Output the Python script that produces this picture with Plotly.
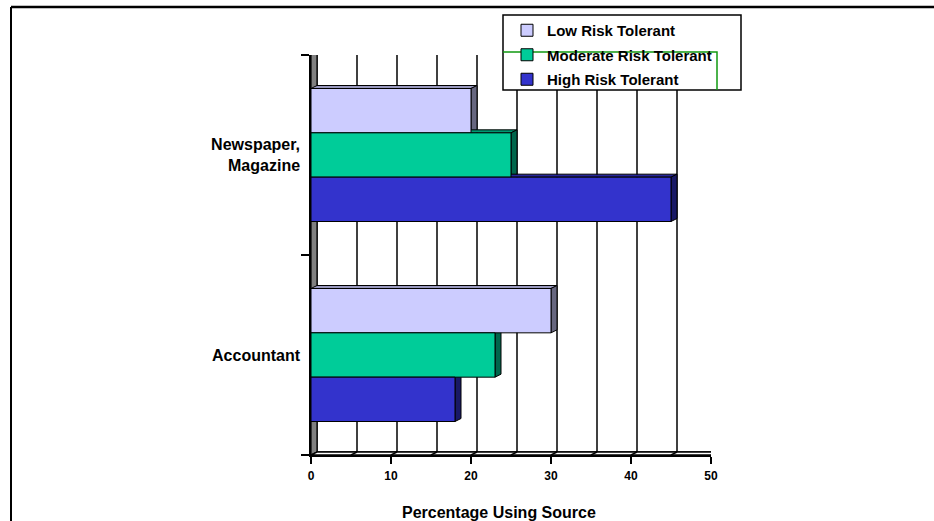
import plotly.graph_objects as go

# Source of investment information, by risk tolerance (percent using each source)
categories = ["Accountant", "Newspaper,<br>Magazine"]
series_names = ["Low Risk Tolerant", "Moderate Risk Tolerant", "High Risk Tolerant"]
low_values = [30, 20]
moderate_values = [23, 25]
high_values = [18, 45]
x_tick_values = [0, 10, 20, 30, 40, 50]
x_title = "Percentage Using Source"

series_colors = ["#CCCCFF", "#00CC99", "#3333CC"]

W, H = 934, 521
FONT = "Arial, 'Liberation Sans', sans-serif"

# plot frame (front plane) in pixels
px_left, px_right = 311, 711
py_top, py_bottom = 55, 455
x_max = 50
y_lo, y_hi = -0.5, len(categories) - 0.5

# pseudo-3D depth, in pixels and in axis units
depth_px_x, depth_px_y = 6, 3
dx = depth_px_x * x_max / (px_right - px_left)
dy = depth_px_y * (y_hi - y_lo) / (py_bottom - py_top)

group_width = 0.665
bar_width = group_width / 3

# legend box, pixels
lg_x0, lg_x1, lg_y0, lg_y1 = 503, 741, 15, 90


def shade(hex_color, f):
    h = hex_color.lstrip("#")
    r, g, b = (int(h[i:i + 2], 16) for i in (0, 2, 4))
    return "#%02X%02X%02X" % (int(r * f), int(g * f), int(b * f))


def pxx(x):
    return x / W


def pxy(y):
    return 1 - y / H


fig = go.Figure()

# within each group: Low on top, Moderate in the middle, High at the bottom
values_by_series = [low_values, moderate_values, high_values]
offsets = {}
for s in range(3):
    slot_from_bottom = 2 - s
    offsets[s] = -group_width / 2 + slot_from_bottom * bar_width
    fig.add_trace(go.Bar(
        y=list(range(len(categories))),
        x=values_by_series[s],
        orientation="h",
        name=series_names[s],
        legendgroup=series_names[s],
        width=bar_width,
        offset=offsets[s],
        marker=dict(color=series_colors[s], line=dict(color="black", width=1)),
        hoverinfo="x+name",
    ))

shapes = []
line_k = dict(color="black", width=1.5)

# back wall with vertical gridlines every 5 units
shapes.append(dict(type="rect", xref="x", yref="y", x0=dx, x1=x_max + dx,
                   y0=y_lo + dy, y1=y_hi + dy, line=line_k, fillcolor="white",
                   layer="below"))
for v in range(5, x_max, 5):
    shapes.append(dict(type="line", xref="x", yref="y", x0=v + dx, x1=v + dx,
                       y0=y_lo + dy, y1=y_hi + dy, line=line_k, layer="below"))

# left side wall
shapes.append(dict(type="path", xref="x", yref="y",
                   path=f"M0,{y_lo} L{dx},{y_lo + dy} L{dx},{y_hi + dy} L0,{y_hi} Z",
                   fillcolor="#808080", line=dict(color="black", width=1.2),
                   layer="below"))

# floor
shapes.append(dict(type="path", xref="x", yref="y",
                   path=f"M0,{y_lo} L{x_max},{y_lo} L{x_max + dx},{y_lo + dy} L{dx},{y_lo + dy} Z",
                   fillcolor="white", line=line_k, layer="below"))
for v in range(5, x_max + 1, 5):
    shapes.append(dict(type="line", xref="x", yref="y", x0=v, x1=v + dx,
                       y0=y_lo, y1=y_lo + dy, line=line_k, layer="below"))

# side and top faces of each bar
for ci in range(len(categories)):
    for s in [0, 1, 2]:
        v = values_by_series[s][ci]
        y0 = ci + offsets[s]
        y1 = y0 + bar_width
        col = series_colors[s]
        shapes.append(dict(type="path", xref="x", yref="y",
                           path=f"M0,{y1} L{dx},{y1 + dy} L{v + dx},{y1 + dy} L{v},{y1} Z",
                           fillcolor=shade(col, 0.75), line=dict(color="black", width=1),
                           layer="below"))
        shapes.append(dict(type="path", xref="x", yref="y",
                           path=f"M{v},{y0} L{v + dx},{y0 + dy} L{v + dx},{y1 + dy} L{v},{y1} Z",
                           fillcolor=shade(col, 0.5), line=dict(color="black", width=1),
                           layer="below"))

# legend box, with the wall's top/right edge showing across it in green
shapes.append(dict(type="rect", xref="paper", yref="paper",
                   x0=pxx(lg_x0), x1=pxx(lg_x1), y0=pxy(lg_y1), y1=pxy(lg_y0),
                   fillcolor="white", line=dict(color="black", width=1.5)))
wall_top_px = py_top - depth_px_y
wall_right_px = px_right + depth_px_x
shapes.append(dict(type="path", xref="paper", yref="paper",
                   path=(f"M{pxx(lg_x0)},{pxy(wall_top_px)} L{pxx(wall_right_px)},{pxy(wall_top_px)} "
                         f"L{pxx(wall_right_px)},{pxy(lg_y1)}"),
                   line=dict(color="#119911", width=1.5)))

# page frame
shapes.append(dict(type="line", xref="paper", yref="paper", x0=pxx(11), x1=1,
                   y0=pxy(7), y1=pxy(7), line=dict(color="black", width=2.5)))
shapes.append(dict(type="line", xref="paper", yref="paper", x0=pxx(11), x1=pxx(11),
                   y0=0, y1=pxy(7), line=dict(color="black", width=2)))

fig.update_layout(
    template="none",
    width=W, height=H,
    autosize=False,
    margin=dict(l=0, r=0, t=0, b=0, pad=0),
    paper_bgcolor="white", plot_bgcolor="rgba(0,0,0,0)",
    font=dict(family=FONT, color="black", size=15, weight="bold"),
    barmode="overlay",
    showlegend=True,
    legend=dict(
        x=pxx(lg_x0 + 4), y=pxy(lg_y0 - 1), xanchor="left", yanchor="top",
        bgcolor="rgba(0,0,0,0)", borderwidth=0,
        traceorder="grouped", tracegroupgap=2,
        font=dict(family=FONT, size=15, color="black", weight="bold"),
    ),
    xaxis=dict(
        domain=[pxx(px_left), pxx(px_right)],
        range=[0, x_max],
        automargin=False,
        tickvals=x_tick_values,
        ticks="outside", ticklen=7, tickwidth=1.5, tickcolor="black",
        ticklabelstandoff=2,
        showline=True, linecolor="black", linewidth=1.5,
        showgrid=False, zeroline=False,
        tickfont=dict(size=12, family=FONT, weight="bold"),
        fixedrange=True,
    ),
    yaxis=dict(
        domain=[pxy(py_bottom), pxy(py_top)],
        range=[y_lo, y_hi],
        automargin=False,
        tickvals=list(range(len(categories))),
        ticktext=categories,
        ticks="",
        minor=dict(tickvals=[y_lo + i for i in range(len(categories) + 1)],
                   ticks="outside", ticklen=8, tickwidth=1.5, tickcolor="black",
                   showgrid=False),
        ticklabelstandoff=6,
        showline=True, linecolor="black", linewidth=1.5,
        showgrid=False, zeroline=False,
        tickfont=dict(size=16, family=FONT, weight="bold"),
        fixedrange=True,
    ),
    shapes=shapes,
    annotations=[dict(text=x_title, xref="paper", yref="paper",
                      x=pxx(499), y=pxy(512), xanchor="center", yanchor="middle",
                      showarrow=False,
                      font=dict(size=16, family=FONT, color="black", weight="bold"))],
)

fig.write_html("out.html")
